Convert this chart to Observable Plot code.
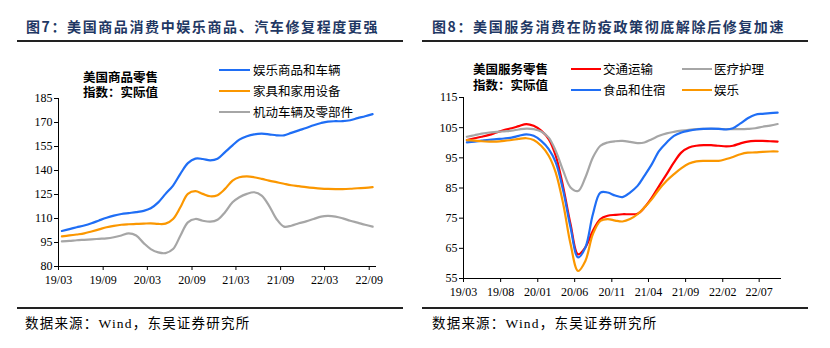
<!DOCTYPE html>
<html>
<head>
<meta charset="utf-8">
<script src="https://cdn.jsdelivr.net/npm/d3@7"></script>
<script src="https://cdn.jsdelivr.net/npm/@observablehq/plot@0.6"></script>
<style>
  html, body { margin: 0; padding: 0; background: #fff; }
  #root { position: relative; width: 830px; height: 348px; overflow: hidden; background: #fff;
          font-family: "Noto Sans CJK SC", "Noto Sans", sans-serif; color: #000; }
  .abs { position: absolute; }
  .title { font-size: 14px; font-weight: bold; color: #1f3864; letter-spacing: 1.6px; line-height: 18px; white-space: nowrap; }
  .rule { height: 2px; background: #222; }
  .foot { font-size: 13.5px; line-height: 18px; letter-spacing: 1.2px; white-space: nowrap; font-family: "Liberation Serif", "Noto Sans CJK SC", serif; }
  .sub { font-size: 12.5px; font-weight: bold; line-height: 15px; white-space: pre; }
  .leg { font-size: 12.5px; line-height: 15px; white-space: nowrap; }
  .sw { height: 2px; }
</style>
</head>
<body>
<div id="root"></div>
<script>
// ---------- data ----------
const leftTitle = "图7：美国商品消费中娱乐商品、汽车修复程度更强";
const rightTitle = "图8：美国服务消费在防疫政策彻底解除后修复加速";
const sourceText = "数据来源：Wind，东吴证券研究所";
const leftSub = ["美国商品零售", "指数：实际值"];
const rightSub = ["美国服务零售", "指数：实际值"];

const leftNames = ["娱乐商品和车辆", "家具和家用设备", "机动车辆及零部件"];
const leftColors = ["#1f6ef5", "#fb9700", "#a6a6a6"];
const rightNames = ["交通运输", "医疗护理", "食品和住宿", "娱乐"];
const rightColors = ["#ff0000", "#a6a6a6", "#1f6ef5", "#fb9700"];

// monthly, 2019-03 .. 2022-09
const goodsRecreation = [102.2,103.4,104.5,105.6,107.0,108.8,110.5,111.8,112.8,113.4,114.0,114.8,116.4,120.1,125.4,130.6,137.9,144.6,147.4,147.2,146.3,147.3,151.5,155.7,159.3,161.4,162.6,163.0,162.6,162.0,162.0,163.5,165.1,166.6,168.3,169.7,170.6,170.8,170.8,171.4,172.7,173.9,175.2];
const goodsFurniture = [98.8,99.4,100.0,100.7,101.9,103.2,104.5,105.4,106.1,106.4,106.6,106.8,107.0,106.6,106.8,109.7,117.0,125.4,127.1,125.4,123.9,124.6,128.5,133.7,135.8,136.3,135.8,134.8,133.7,132.7,131.7,130.8,130.2,129.6,129.1,128.7,128.5,128.4,128.4,128.6,128.9,129.1,129.6];
const goodsMotor = [95.7,96.0,96.4,96.7,97.0,97.3,97.6,98.3,99.4,100.7,99.4,94.6,90.9,88.8,88.4,90.9,99.2,107.6,109.7,108.6,108.0,109.2,113.9,120.1,123.3,125.4,126.4,124.3,118.1,109.7,104.9,105.5,107.0,108.2,109.7,111.2,111.6,111.2,110.1,108.6,107.4,106.1,104.9];

const servTransport = [100.9,101.5,102.0,102.6,103.4,104.2,104.8,105.5,106.2,105.6,104.0,101.2,95.7,85.2,73.0,63.0,65.3,70.8,74.7,75.8,76.1,76.3,76.3,76.5,78.5,81.8,85.7,89.6,93.5,96.8,98.4,99.0,99.2,99.2,99.0,98.8,99.0,99.8,100.4,100.6,100.6,100.5,100.4];
const servHealth = [102.0,102.5,103.0,103.4,103.6,103.8,104.0,104.4,104.7,104.5,103.7,101.7,97.3,90.7,85.2,84.0,88.5,95.1,99.0,100.1,100.5,100.6,100.3,99.9,100.1,101.2,102.3,103.1,103.6,104.0,104.3,104.5,104.6,104.6,104.6,104.5,104.5,104.5,104.6,104.8,105.3,105.7,106.2];
const servFood = [100.1,100.4,100.7,101.0,101.2,101.4,101.7,102.3,102.8,102.3,100.6,97.9,93.5,84.0,71.9,62.0,65.3,76.3,83.5,83.5,82.5,82.0,83.5,85.7,89.0,92.9,97.3,100.1,102.3,103.4,104.0,104.4,104.6,104.7,104.6,104.4,104.8,106.4,108.1,109.3,109.6,109.8,110.0];
const servRecreation = [100.9,100.7,100.5,100.4,100.4,100.6,100.9,101.3,101.5,100.9,99.0,95.7,90.1,79.6,66.4,57.5,60.8,69.7,74.1,74.7,74.2,73.9,74.7,76.3,78.5,81.3,84.6,87.4,89.6,91.6,93.1,93.8,94.0,94.0,94.0,94.6,95.3,96.2,96.7,96.8,97.0,97.1,97.1];

const leftXTicks = ["19/03","19/09","20/03","20/09","21/03","21/09","22/03","22/09"];
const rightXTicks = ["19/03","19/08","20/01","20/06","20/11","21/04","21/09","22/02","22/07"];
const leftYTicks = [80,95,110,125,140,155,170,185];
const rightYTicks = [55,65,75,85,95,105,115];

// ---------- helpers ----------
const parseTick = d3.utcParse("%y/%m");
const fmtTick = d3.utcFormat("%y/%m");
const xStart = parseTick("19/03");
const xEnd = parseTick("22/10");
const months = d3.utcMonths(xStart, parseTick("22/10")).map(d => d3.utcDay.offset(d, 14));

const root = document.getElementById("root");
function add(cls, style, text) {
  const el = document.createElement("div");
  el.className = "abs " + cls;
  Object.assign(el.style, style);
  if (text != null) el.textContent = text;
  root.appendChild(el);
  return el;
}

function chart({names, colors, values, yTicks, xTicks, width, height, ml, mt, mr, mb}) {
  const data = names.flatMap((n, k) => values[k].map((v, i) => ({date: months[i], value: v, name: n})));
  return Plot.plot({
    width, height,
    marginLeft: ml, marginTop: mt, marginRight: mr, marginBottom: mb,
    style: {fontFamily: "'Liberation Serif', 'Times New Roman', serif", fontSize: "12px", color: "#000", background: "transparent"},
    x: {type: "utc", domain: [xStart, xEnd], ticks: xTicks.map(parseTick), tickFormat: fmtTick, tickSize: 4, tickPadding: 5, label: null},
    y: {domain: [yTicks[0], yTicks[yTicks.length - 1]], ticks: yTicks, tickSize: 4, tickPadding: 2, label: null},
    color: {domain: names, range: colors},
    marks: [
      Plot.ruleY([yTicks[0]], {stroke: "#000", strokeWidth: 1}),
      Plot.ruleX([xStart], {stroke: "#000", strokeWidth: 1}),
      Plot.line(data, {x: "date", y: "value", z: "name", stroke: "name", strokeWidth: 2.2, curve: "catmull-rom"})
    ]
  });
}

// ---------- titles & rules ----------
add("title", {left: "26px", top: "17px"}, leftTitle);
add("title", {left: "432px", top: "17px"}, rightTitle);
add("rule", {left: "17px", top: "40px", width: "386px"});
add("rule", {left: "422px", top: "40px", width: "386px"});
add("rule", {left: "17px", top: "307px", width: "386px"});
add("rule", {left: "422px", top: "307px", width: "386px"});
add("foot", {left: "25px", top: "315px"}, sourceText);
add("foot", {left: "432px", top: "315px"}, sourceText);

// ---------- charts ----------
const leftHolder = add("", {left: "0px", top: "80px"});
leftHolder.appendChild(chart({
  names: leftNames, colors: leftColors, values: [goodsRecreation, goodsFurniture, goodsMotor],
  yTicks: leftYTicks, xTicks: leftXTicks,
  width: 400, height: 212, ml: 58, mt: 18, mr: 24, mb: 26
}));
const rightHolder = add("", {left: "415px", top: "80px"});
rightHolder.appendChild(chart({
  names: rightNames, colors: rightColors, values: [servTransport, servHealth, servFood, servRecreation],
  yTicks: rightYTicks, xTicks: rightXTicks,
  width: 415, height: 222, ml: 48, mt: 17, mr: 49, mb: 24
}));

// ---------- in-chart labels & legends ----------
add("sub", {left: "83px", top: "69px"}, leftSub.join("\n"));
add("sub", {left: "473px", top: "61px", lineHeight: "16px"}, rightSub.join("\n"));

const leftLegY = [70, 91, 112];
leftNames.forEach((n, i) => {
  add("sw", {left: "219px", top: (leftLegY[i] - 1) + "px", width: "31px", background: leftColors[i]});
  add("leg", {left: "253px", top: (leftLegY[i] - 8) + "px"}, n);
});
const rightLegPos = [[571, 69], [682, 69], [571, 90], [682, 90]];
rightNames.forEach((n, i) => {
  const [x, y] = rightLegPos[i];
  add("sw", {left: x + "px", top: (y - 1) + "px", width: "30px", background: rightColors[i]});
  add("leg", {left: (x + 32) + "px", top: (y - 8) + "px"}, n);
});
</script>
</body>
</html>
